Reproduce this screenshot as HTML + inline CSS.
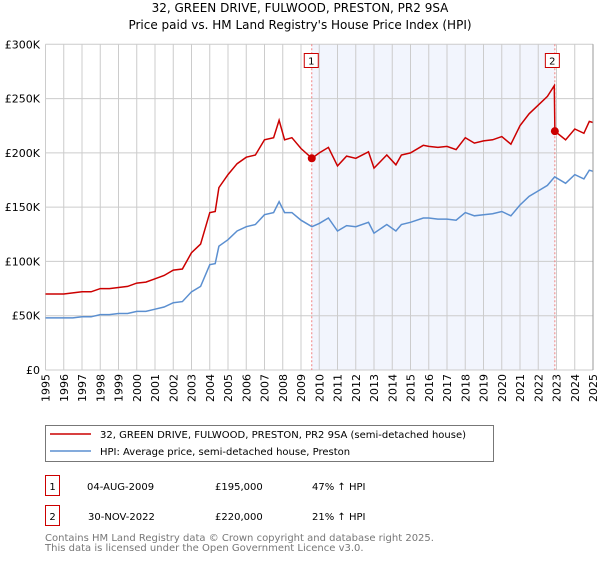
<!DOCTYPE html>
<html><head><meta charset="utf-8"><style>
body{margin:0;background:#fff;width:600px;height:560px;overflow:hidden;font-family:"DejaVu Sans","Liberation Sans",sans-serif;}
svg text{font-family:"DejaVu Sans","Liberation Sans",sans-serif;}
</style></head><body>
<svg id="c" width="600" height="560">
<text x="300" y="12" text-anchor="middle" font-size="12">32, GREEN DRIVE, FULWOOD, PRESTON, PR2 9SA</text>
<text x="300" y="29" text-anchor="middle" font-size="12">Price paid vs. HM Land Registry's House Price Index (HPI)</text>
<g id="plot"></g>
<g>
<rect x="45.5" y="425.5" width="448" height="36" fill="#fff" stroke="#777"/>
<line x1="50" y1="434" x2="91" y2="434" stroke="#cc0000" stroke-width="1.5"/>
<text x="100" y="438" font-size="10">32, GREEN DRIVE, FULWOOD, PRESTON, PR2 9SA (semi-detached house)</text>
<line x1="50" y1="451" x2="91" y2="451" stroke="#5b8fd0" stroke-width="1.5"/>
<text x="100" y="455" font-size="10">HPI: Average price, semi-detached house, Preston</text>
</g>
<g font-size="10">
<rect x="45.5" y="475.5" width="14" height="20" fill="none" stroke="#cc0000"/>
<text x="52.5" y="490" text-anchor="middle">1</text>
<text x="87" y="490">04-AUG-2009</text><text x="215" y="490">£195,000</text><text x="312" y="490">47% ↑ HPI</text>
<rect x="45.5" y="505.5" width="14" height="20" fill="none" stroke="#cc0000"/>
<text x="52.5" y="520" text-anchor="middle">2</text>
<text x="88" y="520">30-NOV-2022</text><text x="215" y="520">£220,000</text><text x="312" y="520">21% ↑ HPI</text>
</g>
<text x="45" y="541" font-size="10" fill="#777">Contains HM Land Registry data © Crown copyright and database right 2025.</text>
<text x="45" y="551" font-size="10" fill="#777">This data is licensed under the Open Government Licence v3.0.</text>
</svg>
<script>
const hpiYears=[1995,1995.5,1996,1996.5,1997,1997.5,1998,1998.5,1999,1999.5,2000,2000.5,2001,2001.5,2002,2002.5,2003,2003.5,2004,2004.3,2004.5,2005,2005.5,2006,2006.5,2007,2007.5,2007.8,2008.1,2008.5,2009,2009.6,2010,2010.5,2011,2011.5,2012,2012.7,2013,2013.7,2014.2,2014.5,2015,2015.7,2016,2016.5,2017,2017.5,2018,2018.5,2019,2019.5,2020,2020.5,2021,2021.5,2022,2022.5,2022.9,2023.5,2024,2024.5,2024.8,2025];
const hpiValues=[48,48,48,48,49,49,51,51,52,52,54,54,56,58,62,63,72,77,97,98,114,120,128,132,134,143,145,155,145,145,138,132,135,140,128,133,132,136,126,134,128,134,136,140,140,139,139,138,145,142,143,144,146,142,152,160,165,170,178,172,180,176,184,183];
const priceYears=[1995,1995.5,1996,1996.5,1997,1997.5,1998,1998.5,1999,1999.5,2000,2000.5,2001,2001.5,2002,2002.5,2003,2003.5,2004,2004.3,2004.5,2005,2005.5,2006,2006.5,2007,2007.5,2007.8,2008.1,2008.5,2009,2009.6,2010,2010.5,2011,2011.5,2012,2012.7,2013,2013.7,2014.2,2014.5,2015,2015.7,2016,2016.5,2017,2017.5,2018,2018.5,2019,2019.5,2020,2020.5,2021,2021.5,2022,2022.5,2022.88,2022.91,2023.5,2024,2024.5,2024.8,2025];
const priceValues=[70,70,70,71,72,72,75,75,76,77,80,81,84,87,92,93,108,116,145,146,168,180,190,196,198,212,214,230,212,214,204,195,200,205,188,197,195,201,186,198,189,198,200,207,206,205,206,203,214,209,211,212,215,208,225,236,244,252,262,220,212,222,218,229,228];
const sales=[{n:"1",year:2009.59,value:195},{n:"2",year:2022.91,value:220}];
const yTicks=[0,50,100,150,200,250,300];
const yTickLabels=["£0","£50K","£100K","£150K","£200K","£250K","£300K"];
const xTicks=[1995,1996,1997,1998,1999,2000,2001,2002,2003,2004,2005,2006,2007,2008,2009,2010,2011,2012,2013,2014,2015,2016,2017,2018,2019,2020,2021,2022,2023,2024,2025];
const X0=45.5,X1=593,Y0=370,Y1=44.3;
const xs=y=>X0+(y-1995)/30*(X1-X0);
const ys=v=>Y0-v/300*(Y0-Y1);
const NS="http://www.w3.org/2000/svg";
const g=document.getElementById('plot');
function mk(t,a,p){const e=document.createElementNS(NS,t);for(const k in a)e.setAttribute(k,a[k]);(p||g).appendChild(e);return e;}
const shade=mk('rect',{x:xs(sales[0].year),y:Y1,width:xs(sales[1].year)-xs(sales[0].year),height:Y0-Y1,fill:'#eef2fc',opacity:0.75});


xTicks.forEach((t,i)=>{
 const l=mk('line',{x1:xs(t),y1:Y1,x2:xs(t),y2:Y0,stroke:'#ccc','stroke-width':1});
 
 
 const tx=mk('text',{x:0,y:0,'font-size':11,'text-anchor':'end',transform:`translate(${xs(t)+4},374) rotate(-90)`});
 tx.textContent=t;
 
 
});
yTicks.forEach((t,i)=>{
 const l=mk('line',{x1:X0,y1:ys(t),x2:X1,y2:ys(t),stroke:'#ccc','stroke-width':1});
 
 
 const tx=mk('text',{x:40,y:ys(t)+4,'font-size':11,'text-anchor':'end'});
 tx.textContent=yTickLabels[i];
 
 
});
sales.forEach(s=>{
 const l=mk('line',{x1:xs(s.year),y1:Y1,x2:xs(s.year),y2:Y0,stroke:'#f08080','stroke-dasharray':'2,2','stroke-width':1});
 
 
});
function path(xa,va,col,name){
 const d=xa.map((x,i)=>(i?'L':'M')+xs(x).toFixed(1)+','+ys(va[i]).toFixed(1)).join('');
 const p=mk('path',{d:d,fill:'none',stroke:col,'stroke-width':1.5});
 
 
}
path(hpiYears,hpiValues,'#5b8fd0','hpi-line');
path(priceYears,priceValues,'#cc0000','price-line');
sales.forEach(s=>{
 const c=mk('circle',{cx:xs(s.year),cy:ys(s.value),r:4,fill:'#cc0000'});
 
 
 const bx=xs(s.year)-7-(s.n==="2"?2:0);
 const r=mk('rect',{x:bx-0.5,y:53.5,width:14,height:14,fill:'#fff',stroke:'#cc0000'});
 
 
 const t=mk('text',{x:bx+6.5,y:64.5,'font-size':10,'text-anchor':'middle'});
 t.textContent=s.n;
 
 
});
const ax=mk('line',{x1:X1,y1:Y1,x2:X1,y2:Y0,stroke:'#999'});


</script>
</body></html>
